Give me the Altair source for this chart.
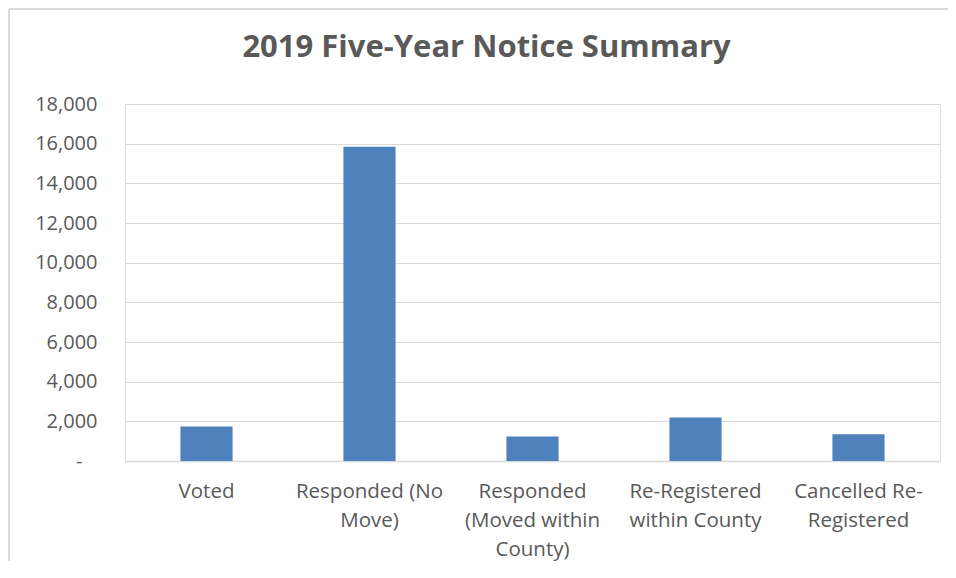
import altair as alt
import pandas as pd

# Data
categories = [
    "Voted",
    "Responded (No|Move)",
    "Responded|(Moved within|County)",
    "Re-Registered|within County",
    "Cancelled Re-|Registered",
]
values = [1740, 15850, 1240, 2190, 1355]
y_ticks = [0, 2000, 4000, 6000, 8000, 10000, 12000, 14000, 16000, 18000]
title_text = "2019 Five-Year Notice Summary"

df = pd.DataFrame({"category": categories, "value": values})

FONT = "Open Sans"
TEXT = "#595959"
GRID = "#d9d9d9"
BAR = "#4f81bd"

W, H = 815, 357

bars = alt.Chart(df).mark_bar(color=BAR).encode(
    x=alt.X(
        "category:N",
        sort=categories,
        title=None,
        scale=alt.Scale(paddingInner=0.68, paddingOuter=0.34),
        axis=alt.Axis(
            labelAngle=0,
            labelExpr="split(datum.label, '|')",
            labelFont=FONT,
            labelFontSize=20.5,
            labelColor=TEXT,
            labelLineHeight=29,
            labelPadding=20,
            labelLimit=300,
            ticks=False,
            domainColor=GRID,
            domainWidth=1.5,
            grid=False,
        ),
    ),
    y=alt.Y(
        "value:Q",
        title=None,
        scale=alt.Scale(domain=[0, 18000], nice=False),
        axis=alt.Axis(
            values=y_ticks,
            labelExpr="datum.value == 0 ? '-\u2800' : format(datum.value, ',')",
            labelFont=FONT,
            labelFontSize=20,
            labelColor=TEXT,
            labelPadding=28,
            ticks=False,
            domain=False,
            gridColor=GRID,
            gridWidth=1,
        ),
    ),
)

frame_left = alt.Chart(alt.Data(values=[{}])).mark_rule(
    stroke=GRID, strokeWidth=2
).encode(x=alt.value(-116), y=alt.value(-95), y2=alt.value(460))

frame_top = alt.Chart(alt.Data(values=[{}])).mark_rule(
    stroke=GRID, strokeWidth=2
).encode(x=alt.value(-116), x2=alt.value(823), y=alt.value(-95))

chart = alt.layer(frame_left, frame_top, bars).properties(
    width=W,
    height=H,
    autosize=alt.AutoSizeParams(type="none"),
    padding={"left": 117, "top": 96, "right": 8, "bottom": 100},
    title=alt.TitleParams(
        text=title_text,
        font=FONT,
        fontSize=31,
        fontWeight="bold",
        color=TEXT,
        anchor="middle",
        dx=-46,
        baseline="alphabetic",
        offset=-80,
    ),
).configure_view(stroke=None).configure(background="white")

chart.save("out.html", embed_options={"renderer": "svg", "actions": False})
